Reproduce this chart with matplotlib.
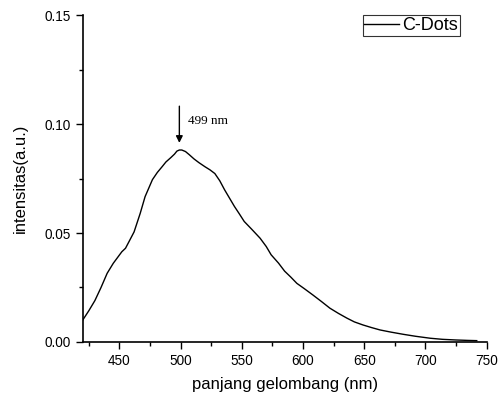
import numpy as np
import matplotlib.pyplot as plt
from matplotlib.ticker import MultipleLocator

# emission spectrum
wavelength = [420, 425, 430, 435, 440, 445, 452, 455, 458, 462, 467, 471, 477,
              481, 485, 488, 492, 495, 497, 499, 501, 504, 507, 511, 515, 520,
              524, 528, 532, 536, 540, 544, 548, 552, 558, 565, 570, 574, 580,
              585, 590, 595, 601, 608, 615, 622, 629, 636, 642, 649, 656, 663,
              672, 682, 692, 704, 714, 725, 735, 742]
intensity = [0.0100, 0.0143, 0.0190, 0.0250, 0.0315, 0.0361, 0.0414, 0.0430, 0.0462,
             0.0505, 0.0590, 0.0667, 0.0745, 0.0778, 0.0805, 0.0826, 0.0846, 0.0862,
             0.0876, 0.0881, 0.0881, 0.0874, 0.0860, 0.0840, 0.0823, 0.0804,
             0.0790, 0.0773, 0.0740, 0.0698, 0.0660, 0.0622, 0.0588, 0.0553,
             0.0518, 0.0476, 0.0438, 0.0400, 0.0362, 0.0325, 0.0298, 0.0269,
             0.0245, 0.0216, 0.0186, 0.0155, 0.0131, 0.0109, 0.0092, 0.0078,
             0.0066, 0.0055, 0.0045, 0.0035, 0.0026, 0.0017, 0.0012, 0.0009,
             0.0007, 0.0006]
peak_x = 499
peak_y = 0.0881

plt.rcParams['font.family'] = ['Liberation Sans', 'DejaVu Sans']

fig = plt.figure(figsize=(4.98, 3.99), dpi=100)
ax = fig.add_axes([0.166, 0.143, 0.811, 0.819])

ax.plot(wavelength, intensity, color='black', lw=1.0, label='C-Dots')

ax.set_xlim(420, 750)
ax.set_ylim(0, 0.15)
ax.xaxis.set_major_locator(MultipleLocator(50))
ax.xaxis.set_minor_locator(MultipleLocator(25))
ax.yaxis.set_major_locator(MultipleLocator(0.05))
ax.yaxis.set_minor_locator(MultipleLocator(0.025))
ax.set_yticks([0, 0.05, 0.10, 0.15])
ax.set_yticklabels(['0.00', '0.05', '0.10', '0.15'])
ax.tick_params(which='major', direction='out', length=5, width=1, labelsize=9.8)
ax.tick_params(which='minor', direction='out', length=3, width=1)
for s in ['top', 'right']:
    ax.spines[s].set_visible(False)
for s in ['left', 'bottom']:
    ax.spines[s].set_linewidth(1.2)

ax.set_xlabel('panjang gelombang (nm)', fontsize=12, labelpad=7)
ax.set_ylabel('intensitas(a.u.)', fontsize=12, labelpad=12)

ax.annotate('', xy=(peak_x, peak_y + 0.002), xytext=(peak_x, 0.1095),
            arrowprops=dict(arrowstyle='-|>', color='black', lw=1.0,
                            mutation_scale=10))
ax.text(peak_x + 7, 0.1015, '499 nm', fontsize=9.5, family='Liberation Serif',
        va='center', ha='left')

leg = ax.legend(loc='upper right', bbox_to_anchor=(0.934, 1.0), fontsize=13,
                frameon=True, fancybox=False, edgecolor='black',
                handlelength=1.9, borderpad=0.1, handletextpad=0.2,
                borderaxespad=0)
leg.get_frame().set_linewidth(0.8)

fig.savefig('out.png', dpi=100)
